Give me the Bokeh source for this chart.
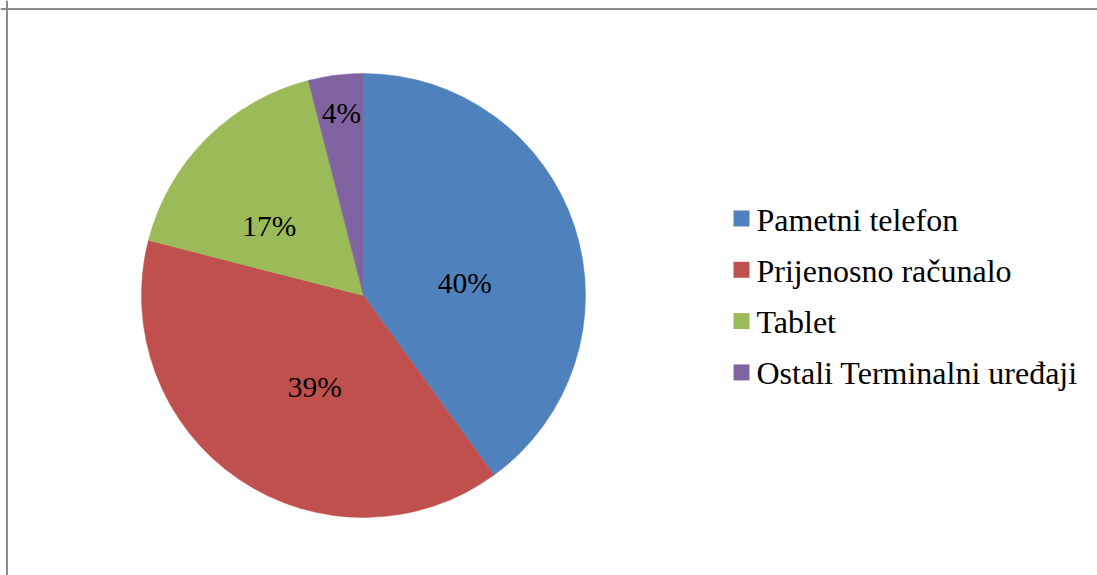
import math
from bokeh.plotting import figure
from bokeh.models import Range1d, Span, ColumnDataSource
from bokeh.core.properties import value
from bokeh.embed import file_html
from bokeh.resources import INLINE

# ---- data ----
categories = ["Pametni telefon", "Prijenosno računalo", "Tablet", "Ostali Terminalni uređaji"]
shares = [40, 39, 17, 4]
colors = ["#4F81BD", "#C0504D", "#9BBB59", "#8064A2"]

# ---- layout (pixel units) ----
label_radius_frac = [0.47, 0.47, 0.53, 0.83]
label_dx = [2, 10, -11, 1]
label_dy = [20, 5, 14, 0]
W, H = 1097, 575
cx, cy, R = 363, 280, 222
FONT = "'Liberation Serif', 'Times New Roman', serif"
FS_LABEL = "29.5px"
FS_LEGEND = "32px"

p = figure(width=W, height=H, output_backend="svg", toolbar_location=None,
           x_range=Range1d(0, W), y_range=Range1d(0, H),
           x_axis_location=None, y_axis_location=None,
           min_border=0, outline_line_color=None,
           background_fill_color="white", border_fill_color="white")
p.grid.visible = False

total = float(sum(shares))
starts, ends, lx, ly, labels = [], [], [], [], []
cum = 0.0
for s, f in zip(shares, label_radius_frac):
    a0 = math.pi / 2 - 2 * math.pi * cum / total
    cum += s
    a1 = math.pi / 2 - 2 * math.pi * cum / total
    starts.append(a0)
    ends.append(a1)
    mid = (a0 + a1) / 2
    lx.append(cx + f * R * math.cos(mid))
    ly.append(cy + f * R * math.sin(mid))
    labels.append(f"{s}%")

src = ColumnDataSource(dict(start=starts, end=ends, color=colors,
                            x=[cx] * 4, y=[cy] * 4))
p.wedge(x="x", y="y", radius=R, start_angle="start", end_angle="end",
        direction="clock", fill_color="color", line_color="color",
        line_width=0.5, source=src)

lsrc = ColumnDataSource(dict(x=lx, y=ly, text=labels, dx=label_dx, dy=label_dy))
p.text(x="x", y="y", text="text", x_offset="dx", y_offset="dy", source=lsrc,
       text_font=value(FONT), text_font_size=FS_LABEL,
       text_align="center", text_baseline="middle", text_color="black")

# legend
leg_x, leg_top, leg_step, sq = 741, 357, 51.3, 16
ys = [leg_top - i * leg_step for i in range(len(categories))]
p.rect(x=[leg_x] * len(categories), y=ys, width=sq, height=sq,
       fill_color=colors, line_color=None)
p.text(x=[leg_x + sq / 2 + 7] * len(categories), y=[y - 1 for y in ys], text=categories,
       text_font=value(FONT), text_font_size=FS_LEGEND, text_align="left",
       text_baseline="middle", text_color="black")

# chart-area border (top and left visible)
p.add_layout(Span(location=H - 8.5, dimension="width", line_color="#8c8c8c", line_width=2))
p.add_layout(Span(location=6.5, dimension="height", line_color="#8c8c8c", line_width=2))

open("out.html", "w").write(file_html(p, INLINE))
